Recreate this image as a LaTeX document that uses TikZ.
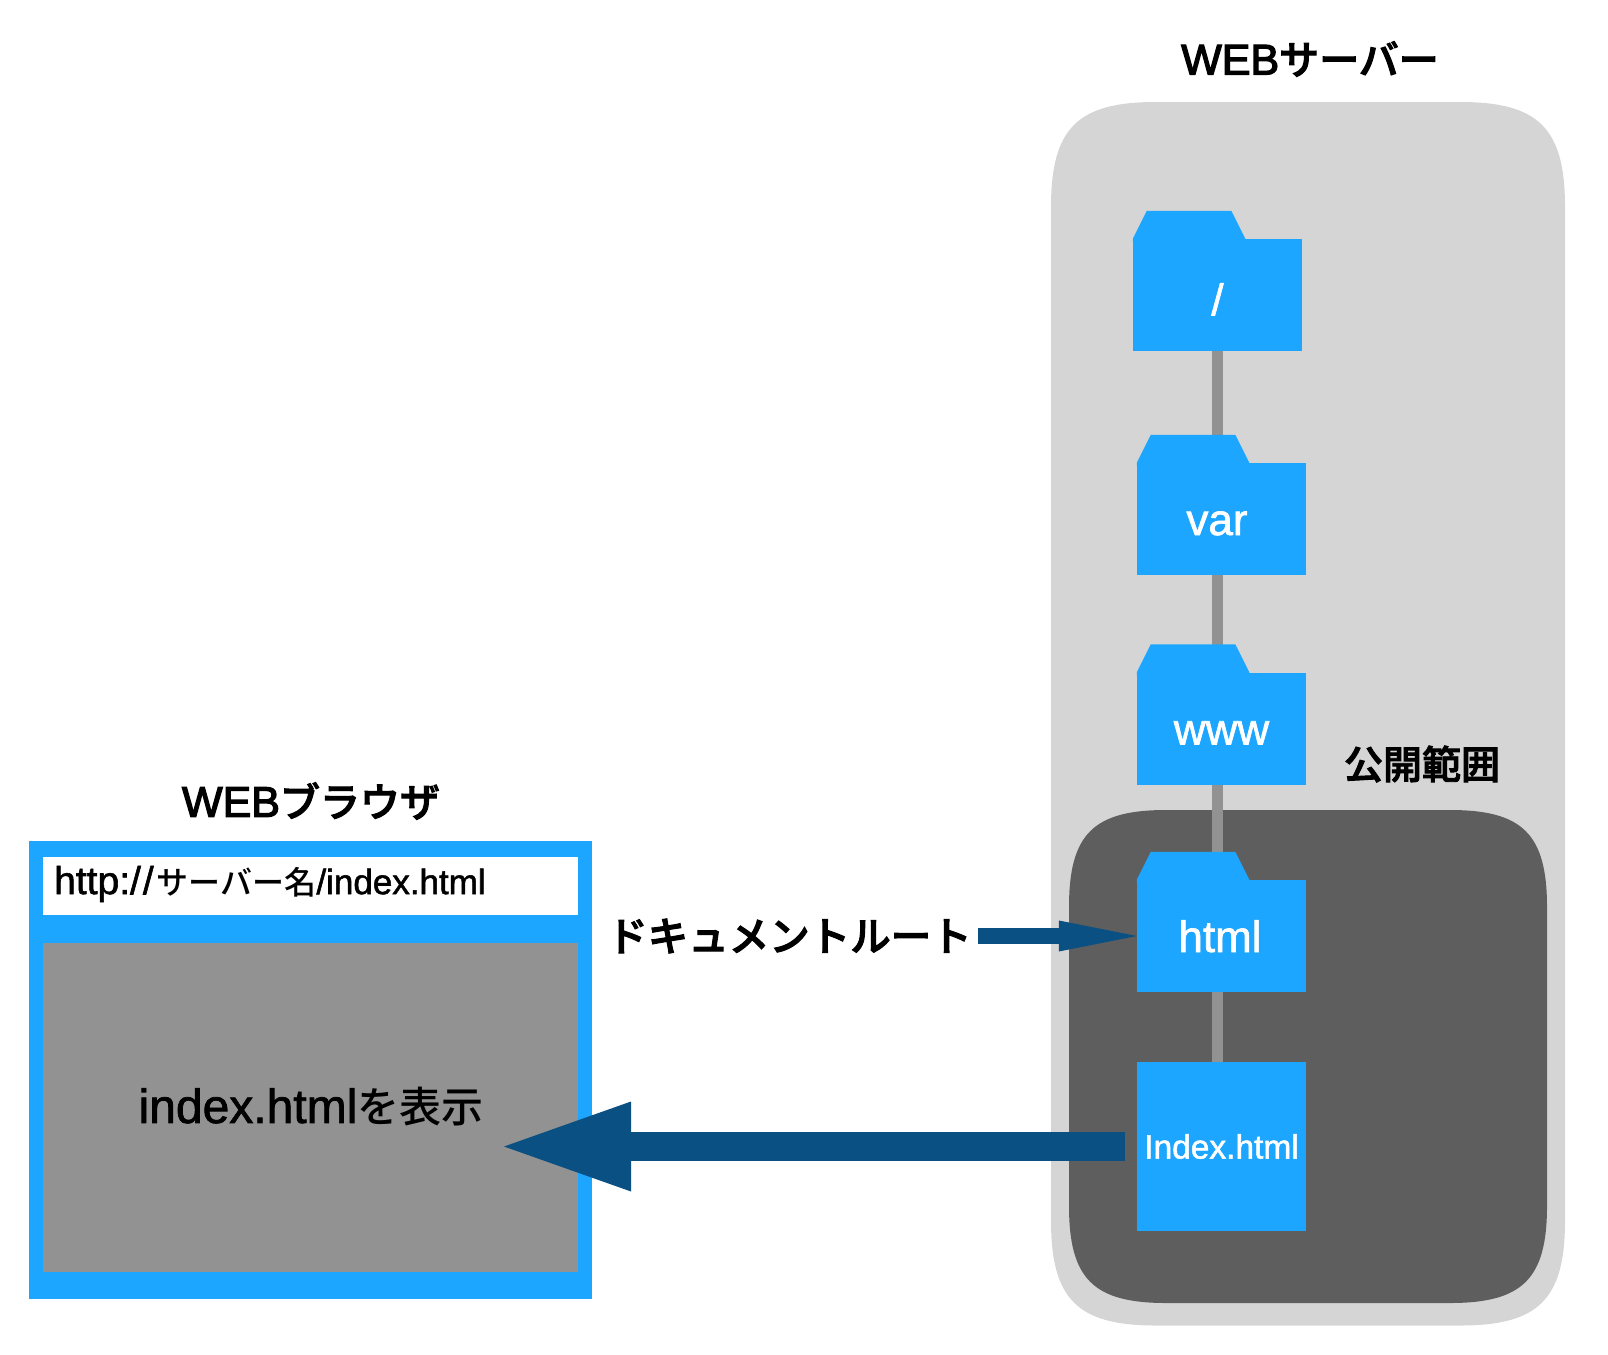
\documentclass[tikz,border=0pt]{standalone}
\usepackage{fontspec}
\setmainfont{Liberation Sans}
\newfontfamily\jpfont{Noto Sans CJK JP}[UprightFont=* Medium]
\newfontfamily\jpheadfont{Noto Sans CJK JP}[UprightFont=* Medium,FakeBold=2.5]
\newfontfamily\labelfont{Liberation Sans}[FakeBold=1.5]
\newfontfamily\headfont{Liberation Sans}[FakeBold=3]
\usetikzlibrary{arrows.meta,backgrounds}

\definecolor{skyblue}{HTML}{1CA6FF}
\definecolor{deepblue}{HTML}{0A5082}
\definecolor{panelgray}{HTML}{D5D5D5}
\definecolor{paneldark}{HTML}{5E5E5E}
\definecolor{midgray}{HTML}{929292}

\newcommand{\headjp}[1]{{\jpheadfont\fontsize{40}{50}\selectfont #1}}
\newcommand{\softbox}[6]{%
  \fill[#1,shift={(#2,#3)}] (0,#6) .. controls (0,{#6*0.25}) and ({#6*0.25},0) .. (#6,0)
    -- ({#4-#6},0) .. controls ({#4-#6*0.25},0) and (#4,{#6*0.25}) .. (#4,#6)
    -- (#4,{#5-#6}) .. controls (#4,{#5-#6*0.25}) and ({#4-#6*0.25},#5) .. ({#4-#6},#5)
    -- (#6,#5) .. controls ({#6*0.25},#5) and (0,{#5-#6*0.25}) .. (0,{#5-#6}) -- cycle;}

\tikzset{
  folderbody/.style={rectangle,fill=skyblue,text=white,inner sep=0pt,minimum width=169pt,minimum height=112pt,
    font=\labelfont\fontsize{44}{50}\selectfont,text height=32pt,text depth=0pt},
  treeline/.style={draw=midgray,line width=11pt},
  heading/.style={text=black,inner sep=0pt,font=\headfont\fontsize{43}{50}\selectfont},
  bigarrow/.style={draw=deepblue,line width=29pt,-{Triangle[length=127pt,width=90pt,line width=0pt]}},
  smallarrow/.style={draw=deepblue,line width=16pt,-{Triangle[length=78pt,width=31pt,line width=0pt]}}
}

\begin{document}
\begin{tikzpicture}[x=1pt,y=-1pt]
  \useasboundingbox (0,0) rectangle (1608,1354);

  \foreach \name/\x/\y/\txt in {rootdir/1217.5/295/{\raisebox{-4pt}{/}},vardir/1221.5/519/var\kern9pt,wwwdir/1221.5/728.5/www,htmldir/1221.5/936/html\kern3pt} {
    \node[folderbody] (\name) at (\x,\y) {\txt};
    \fill[skyblue] (\name.north west) -- ++(14,-28) -- ++(84.5,0) -- ++(14,28) -- ++(0,3) -- ++(-112.5,0) -- cycle;
  }
  \node[folderbody,minimum height=169pt,text height=24pt,font=\labelfont\fontsize{33.5}{40}\selectfont] (indexfile) at (1221.5,1146.5) {Index.html};

  \node[heading] (servertitle) at (1310,59) {WEB\headjp{サーバー}};
  \node[heading,font=\jpheadfont\fontsize{39}{50}\selectfont] (publictitle) at (1422,764) {公開範囲};
  \node[heading] (browsertitle) at (311,801) {WEB\headjp{ブラウザ}};
  \node[heading] (rootlabel) at (789.5,936) {\headjp{\fontsize{40.5}{50}\selectfont ドキュメントルート}};

  \begin{pgfonlayer}{background}
    \softbox{panelgray}{1051}{102}{514}{1223.5}{105}
    \softbox{paneldark}{1069}{810}{478}{493}{97}
    \foreach \a/\b in {rootdir/vardir,vardir/wwwdir,wwwdir/htmldir,htmldir/indexfile}
      \draw[treeline] (\a.south -| rootdir.south) -- (\b.north -| rootdir.south);
  \end{pgfonlayer}

  \node[fill=skyblue,minimum width=563pt,minimum height=458pt,inner sep=0pt] (browser) at (310.5,1070) {};
  \node[fill=white,minimum width=535pt,minimum height=58pt,inner sep=0pt] (urlbar) at (310.5,886) {};
  \node[anchor=west,inner sep=0pt,font=\labelfont\fontsize{35}{40}\selectfont] (urltext) at (54,884) {{\fontsize{39}{40}\selectfont http:/\kern2pt/\kern3pt}{\jpfont\fontsize{32}{40}\selectfont サーバー名}/index.html};
  \node[fill=midgray,minimum width=535pt,minimum height=329pt,inner sep=0pt] (pageview) at (310.5,1107.5) {};
  \node[inner sep=0pt,font=\labelfont\fontsize{48}{50}\selectfont] (viewtext) at (311,1107) {index.html{\jpfont\fontsize{42}{50}\selectfont を表示}};

  \coordinate (viewtip) at (504,1146.5);
  \draw[bigarrow,shorten <=12pt] (indexfile.west) -- (viewtip);
  \draw[smallarrow,shorten <=6pt] (rootlabel.east) -- (htmldir.west);
\end{tikzpicture}
\end{document}
